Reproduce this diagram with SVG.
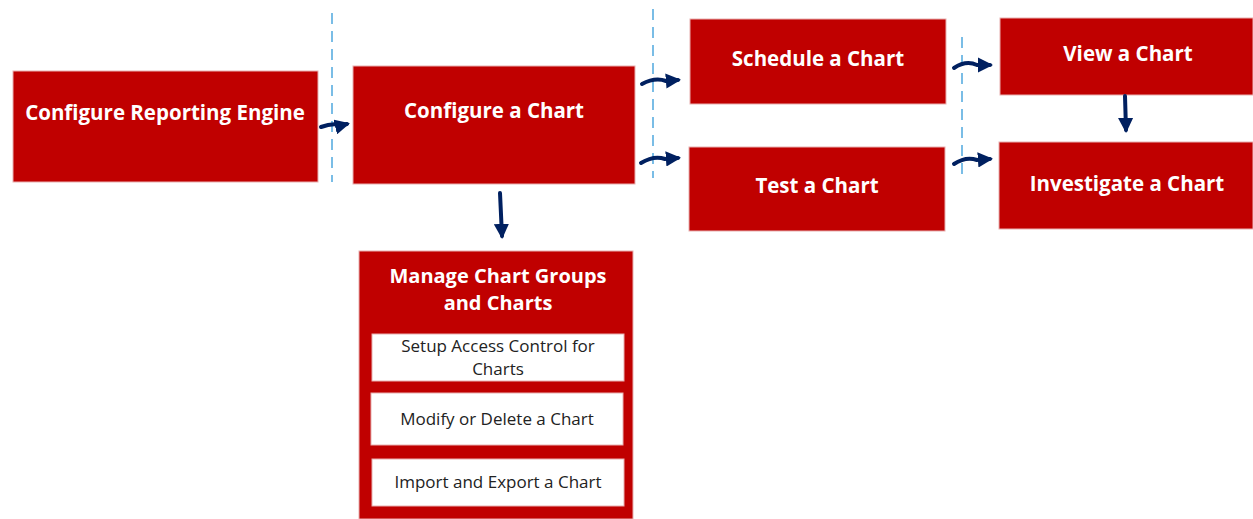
<svg xmlns="http://www.w3.org/2000/svg" width="1253" height="519" viewBox="0 0 1253 519">
<defs>
<marker id="ah" viewBox="0 0 10 10" refX="8" refY="5" markerWidth="3.8" markerHeight="3.8" markerUnits="strokeWidth" orient="auto">
<path d="M0,0 L10,5 L0,10 Z" fill="#002060"/>
</marker>
<style>
.box{fill:#C00000;stroke:#E8B0B0;stroke-width:1}
.sub{fill:#FFFFFF;stroke:#E8B0B0;stroke-width:1}
.t{font-family:"Open Sans","Noto Sans",sans-serif;font-weight:bold;font-size:20.5px;fill:#FFFFFF;text-anchor:middle}
.tm{font-size:20px}
.s{font-family:"Open Sans","Noto Sans",sans-serif;font-size:17px;fill:#222222;text-anchor:middle}
.c{fill:none;stroke:#002060;stroke-width:4;stroke-linecap:round;marker-end:url(#ah)}
.d{stroke:#4FA8DE;stroke-width:1.5;stroke-dasharray:11 7;fill:none}
</style>
</defs>
<rect width="1253" height="519" fill="#FFFFFF"/>
<g id="dividers">
<line class="d" x1="332" y1="13" x2="332" y2="182"/>
<line class="d" x1="653" y1="9" x2="653" y2="178"/>
<line class="d" x1="962" y1="37" x2="962" y2="175"/>
</g>
<g id="n1"><rect class="box" x="13" y="71" width="305" height="111"/><text class="t" x="165" y="120">Configure Reporting Engine</text></g>
<g id="n2"><rect class="box" x="353" y="66" width="282" height="118"/><text class="t" x="494" y="118">Configure a Chart</text></g>
<g id="n3"><rect class="box" x="690" y="19" width="256" height="85"/><text class="t" x="818" y="66">Schedule a Chart</text></g>
<g id="n4"><rect class="box" x="689" y="147" width="256" height="84"/><text class="t" x="817" y="193">Test a Chart</text></g>
<g id="n5"><rect class="box" x="1000" y="18" width="253" height="77"/><text class="t" x="1128" y="61">View a Chart</text></g>
<g id="n6"><rect class="box" x="999" y="142" width="254" height="87"/><text class="t" x="1127" y="191">Investigate a Chart</text></g>
<g id="n7">
<rect class="box" x="359" y="251" width="274" height="268"/>
<text class="t tm" x="498" y="283">Manage Chart Groups</text>
<text class="t tm" x="498" y="310">and Charts</text>
<rect class="sub" x="372" y="334" width="252" height="47"/>
<text class="s" x="498" y="352">Setup Access Control for</text>
<text class="s" x="498" y="375">Charts</text>
<rect class="sub" x="371" y="393" width="252" height="52"/>
<text class="s" x="497" y="425">Modify or Delete a Chart</text>
<rect class="sub" x="372" y="459" width="252" height="47"/>
<text class="s" x="498" y="488">Import and Export a Chart</text>
</g>
<g id="connectors">
<path class="c" d="M321,127 Q332,123 340,125 Q343,125 347,124"/>
<path class="c" d="M642,84 Q655,77 666,81 L678,80"/>
<path class="c" d="M641,163 Q654,155 665,159 L678,158"/>
<path class="c" d="M954,68 Q966,60 977,65 L990,65"/>
<path class="c" d="M954,164 Q966,156 977,160 L990,159"/>
<path class="c" d="M500,193 L502,236"/>
<path class="c" d="M1125,96 L1126,130"/>
</g>
</svg>
